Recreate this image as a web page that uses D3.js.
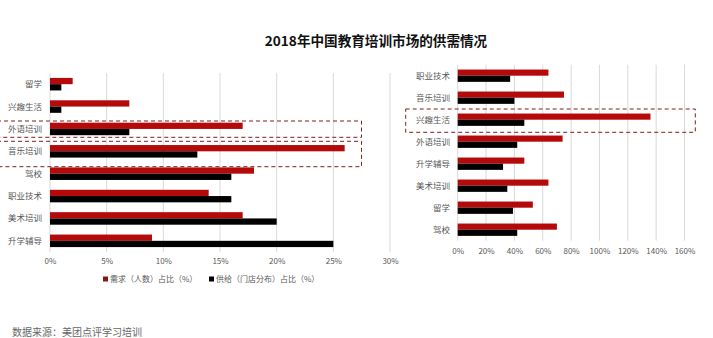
<!DOCTYPE html>
<html>
<head>
<meta charset="utf-8">
<script src="https://cdn.jsdelivr.net/npm/d3@7"></script>
<style>
  html, body { margin: 0; padding: 0; background: #fff; }
  svg { display: block; font-family: "Noto Sans CJK SC", "Noto Sans", sans-serif; }
</style>
</head>
<body>
<svg id="chart" width="713" height="338"></svg>
<script>
// Left panel: share of demand vs. share of supply (%)
const leftCategories = ["留学", "兴趣生活", "外语培训", "音乐培训", "驾校", "职业技术", "美术培训", "升学辅导"];
const leftDemand = [2, 7, 17, 26, 18, 14, 17, 9];
const leftSupply = [1, 1, 7, 13, 16, 16, 20, 25];
const leftTicks = [0, 5, 10, 15, 20, 25, 30];

// Right panel: growth by category (%)
const rightCategories = ["职业技术", "音乐培训", "兴趣生活", "外语培训", "升学辅导", "美术培训", "留学", "驾校"];
const rightDemand = [64, 75, 136, 74, 47, 64, 53, 70];
const rightSupply = [37, 40, 47, 42, 32, 35, 39, 42];
const rightTicks = [0, 20, 40, 60, 80, 100, 120, 140, 160];

const seriesNames = ["需求（人数）占比（%）", "供给（门店分布）占比（%）"];
const colors = ["#B50A0A", "#000000"];
const title = "2018年中国教育培训市场的供需情况";
const source = "数据来源：美团点评学习培训";

const svg = d3.select("#chart");

svg.append("text")
  .attr("x", 376).attr("y", 46)
  .attr("text-anchor", "middle")
  .attr("font-size", 13.6).attr("font-weight", "bold")
  .attr("fill", "#111")
  .text(title);

function panel(cfg) {
  const g = svg.append("g");
  const x = d3.scaleLinear().domain([0, cfg.max]).range([cfg.x0, cfg.x1]);
  const y = d3.scaleBand().domain(cfg.categories).range([cfg.y0, cfg.y1]).paddingInner(0.44).paddingOuter(0.22);
  const sub = d3.scaleBand().domain([0, 1]).range([0, y.bandwidth()]);

  // vertical gridlines
  g.append("g").selectAll("line").data(cfg.ticks).join("line")
    .attr("x1", d => x(d)).attr("x2", d => x(d))
    .attr("y1", cfg.y0).attr("y2", cfg.y1)
    .attr("stroke", "#d9d9d9").attr("stroke-width", 1);

  // bottom axis labels
  const axis = d3.axisBottom(x).tickValues(cfg.ticks).tickFormat(d => d + "%").tickSize(0).tickPadding(0);
  const ag = g.append("g").attr("transform", `translate(0,${cfg.axisY})`).call(axis);
  ag.select(".domain").remove();
  ag.selectAll("text").attr("font-size", 8).attr("fill", "#595959")
    .attr("font-family", "\"Noto Sans CJK SC\", sans-serif");

  // category labels
  g.append("g").selectAll("text").data(cfg.categories).join("text")
    .attr("x", cfg.labelX)
    .attr("y", d => y(d) + y.bandwidth() / 2)
    .attr("dy", "0.35em")
    .attr("text-anchor", "end")
    .attr("font-size", 8.5).attr("fill", "#595959")
    .text(d => d);

  // bars
  [cfg.demand, cfg.supply].forEach((vals, i) => {
    g.append("g").selectAll("rect").data(cfg.categories).join("rect")
      .attr("x", x(0))
      .attr("y", (d) => y(d) + sub(i))
      .attr("width", (d, j) => x(vals[j]) - x(0))
      .attr("height", sub.bandwidth())
      .attr("fill", colors[i]);
  });
  return { x, y };
}

panel({
  categories: leftCategories, demand: leftDemand, supply: leftSupply, ticks: leftTicks,
  max: 30, x0: 50, x1: 390, y0: 73, y1: 252, axisY: 258, labelX: 42
});

panel({
  categories: rightCategories, demand: rightDemand, supply: rightSupply, ticks: rightTicks,
  max: 160, x0: 457.7, x1: 684.5, y0: 64.7, y1: 240.7, axisY: 248, labelX: 450
});

// dashed highlight boxes
const boxes = [
  { x: -3, y: 121, w: 364.5, h: 16.3 },
  { x: -3, y: 141.3, w: 364.5, h: 25.4 },
  { x: 405.7, y: 109, w: 289.6, h: 23.3 }
];
svg.append("g").selectAll("rect").data(boxes).join("rect")
  .attr("x", d => d.x).attr("y", d => d.y)
  .attr("width", d => d.w).attr("height", d => d.h)
  .attr("fill", "none").attr("stroke", "#7a1f1f")
  .attr("stroke-width", 1).attr("stroke-dasharray", "4,3");

// legend
const legend = svg.append("g");
const legendX = [103, 209];
seriesNames.forEach((name, i) => {
  legend.append("rect").attr("x", legendX[i]).attr("y", 276.5).attr("width", 5).attr("height", 5).attr("fill", colors[i] === "#000000" ? "#000" : "#8e1414");
  legend.append("text").attr("x", legendX[i] + 7).attr("y", 279.5).attr("dy", "0.35em")
    .attr("font-size", 8).attr("fill", "#595959").text(name);
});

// source note
svg.append("text").attr("x", 12).attr("y", 336)
  .attr("font-size", 10).attr("fill", "#666").text(source);
</script>
</body>
</html>
